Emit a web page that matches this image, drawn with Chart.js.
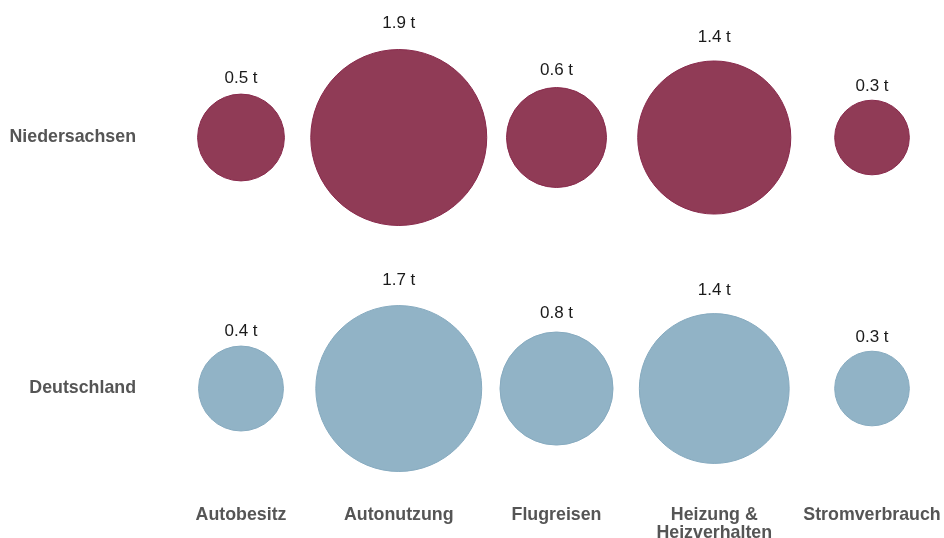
<!DOCTYPE html>
<html lang="de">
<head>
<meta charset="utf-8">
<title>CO2-Fußabdruck Mobilität und Wohnen</title>
<script src="https://cdn.jsdelivr.net/npm/chart.js@4/dist/chart.umd.min.js"></script>
<style>
  html, body { margin: 0; padding: 0; background: #fff; }
  #wrap { width: 944px; height: 538px; position: relative; }
</style>
</head>
<body>
<div id="wrap"><canvas id="blasenChart"></canvas></div>
<script>
// Kategorien (x-Achse) und Regionen (y-Achse)
const kategorien = ['Autobesitz', 'Autonutzung', 'Flugreisen', ['Heizung &', 'Heizverhalten'], 'Stromverbrauch'];
const regionen = ['Deutschland', 'Niedersachsen'];

// Tonnen CO2 pro Kopf (aus den Kreisflächen geschätzt, Beschriftung auf 0.1 t gerundet)
const werteNiedersachsen = [0.46, 1.89, 0.61, 1.43, 0.34];
const werteDeutschland = [0.44, 1.68, 0.78, 1.37, 0.34];

// Kreisfläche proportional zum Wert
const radiusFaktor = 64;
const radius = (v) => radiusFaktor * Math.sqrt(v);

const punkte = (werte, zeile) => werte.map((v, i) => ({ x: i, y: zeile, r: radius(v), wert: v }));

// Werte über den Kreisen schreiben
const wertLabels = {
    id: 'wertLabels',
    afterDatasetsDraw(chart) {
        const ctx = chart.ctx;
        ctx.save();
        ctx.font = '17px "Liberation Sans", Arial, sans-serif';
        ctx.fillStyle = '#1a1a1a';
        ctx.textAlign = 'center';
        ctx.textBaseline = 'middle';
        chart.data.datasets.forEach((ds, d) => {
            chart.getDatasetMeta(d).data.forEach((el, i) => {
                const p = ds.data[i];
                const abstand = 1.24 * p.r + 5;
                ctx.fillText(p.wert.toFixed(1) + ' t', el.x, el.y - abstand);
            });
        });
        ctx.restore();
    }
};

const achsenFont = { family: '"Liberation Sans", Arial, sans-serif', size: 17.8, weight: 'bold', lineHeight: 1.03 };

new Chart(document.getElementById('blasenChart'), {
    type: 'bubble',
    data: {
        datasets: [
            {
                label: 'Niedersachsen',
                data: punkte(werteNiedersachsen, 1),
                backgroundColor: '#903b56',
                borderColor: '#88294b',
                borderWidth: 1,
                clip: false
            },
            {
                label: 'Deutschland',
                data: punkte(werteDeutschland, 0),
                backgroundColor: '#91b3c6',
                borderColor: '#86aabf',
                borderWidth: 1,
                clip: false
            }
        ]
    },
    options: {
        responsive: true,
        maintainAspectRatio: false,
        animation: false,
        // die Blasen sollen keinen Extra-Rand erzeugen
        layout: { autoPadding: false, padding: { top: 12, right: 1, left: 0, bottom: 0 } },
        plugins: {
            legend: { display: false },
            tooltip: { enabled: false }
        },
        scales: {
            x: {
                type: 'linear',
                min: -0.6656,
                max: 4.45,
                grid: { display: false, drawTicks: false, tickLength: 0 },
                border: { display: false },
                afterBuildTicks: (scale) => { scale.ticks = kategorien.map((k, i) => ({ value: i })); },
                afterFit: (scale) => { scale.height = 32; },
                ticks: {
                    autoSkip: false,
                    maxRotation: 0,
                    padding: 0,
                    color: '#555555',
                    font: achsenFont,
                    callback: (v) => kategorien[v]
                }
            },
            y: {
                type: 'linear',
                min: -0.468,
                max: 1.5,
                grid: { display: false, drawTicks: false, tickLength: 0 },
                border: { display: false },
                afterBuildTicks: (scale) => { scale.ticks = regionen.map((r, i) => ({ value: i })); },
                afterFit: (scale) => { scale.width = 136; },
                ticks: {
                    padding: 0,
                    color: '#555555',
                    font: achsenFont,
                    callback: (v) => regionen[v]
                }
            }
        }
    },
    plugins: [wertLabels]
});
</script>
</body>
</html>
